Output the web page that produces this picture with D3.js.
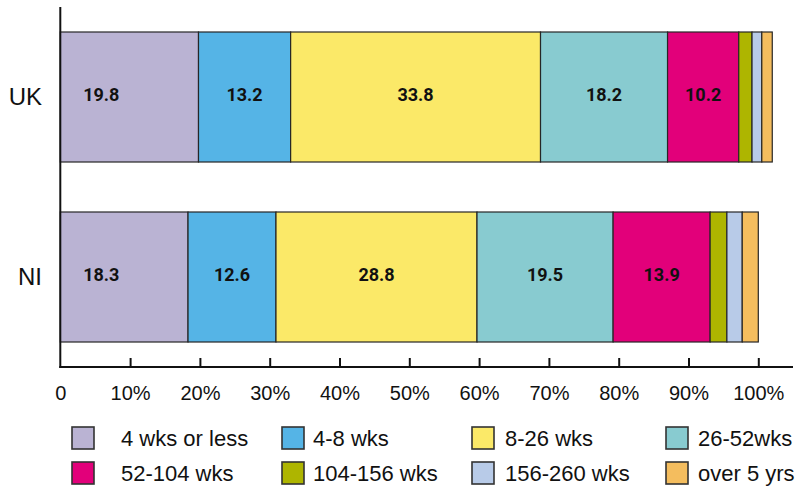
<!DOCTYPE html>
<html>
<head>
<meta charset="utf-8">
<script src="https://cdn.jsdelivr.net/npm/d3@7"></script>
<style>
  html, body { margin: 0; padding: 0; background: #fff; }
  svg { display: block; }
</style>
</head>
<body>
<svg id="chart" width="805" height="488"></svg>
<script>
// ---- data ----
const categories = ["UK", "NI"];
const seriesNames = ["4 wks or less", "4-8 wks", "8-26 wks", "26-52wks",
                     "52-104 wks", "104-156 wks", "156-260 wks", "over 5 yrs"];
// segment lengths as drawn in the reference (%)
const ukValues = [19.8, 13.2, 35.8, 18.2, 10.2, 1.9, 1.4, 1.5];
const niValues = [18.3, 12.6, 28.8, 19.5, 13.9, 2.4, 2.2, 2.3];
// printed labels (the reference prints 33.8 on the UK 8-26 wks segment)
const ukLabels = ["19.8", "13.2", "33.8", "18.2", "10.2", "", "", ""];
const niLabels = ["18.3", "12.6", "28.8", "19.5", "13.9", "", "", ""];
const tickValues = [0, 10, 20, 30, 40, 50, 60, 70, 80, 90, 100];
const tickLabels = ["0", "10%", "20%", "30%", "40%", "50%", "60%", "70%", "80%", "90%", "100%"];
const colors = ["#bab3d3", "#55b4e6", "#fbe968", "#88cbd0",
                "#e2007a", "#aeb500", "#b8cbe8", "#f4bd5e"];

// ---- layout ----
const svg = d3.select("#chart");
const x = d3.scaleLinear().domain([0, 100]).range([60.3, 758.3]);
const y = d3.scaleBand().domain(categories).range([7, 367])
            .paddingInner(0.2778).paddingOuter(0.1389);
const color = d3.scaleOrdinal().domain(seriesNames).range(colors);

const rows = [
  { cat: "UK", values: ukValues, labels: ukLabels },
  { cat: "NI", values: niValues, labels: niLabels }
];

rows.forEach(r => {
  let acc = 0;
  r.segs = r.values.map((v, i) => {
    const s = { name: seriesNames[i], x0: acc, x1: acc + v, label: r.labels[i], i };
    acc += v;
    return s;
  });
});

const g = svg.append("g");
rows.forEach(r => {
  const row = g.append("g");
  row.selectAll("rect").data(r.segs).join("rect")
    .attr("x", d => x(d.x0))
    .attr("y", y(r.cat))
    .attr("width", d => x(d.x1) - x(d.x0))
    .attr("height", y.bandwidth())
    .attr("fill", d => color(d.name))
    .attr("stroke", "#262626")
    .attr("stroke-width", 1.2);
  row.selectAll("text").data(r.segs.filter(d => d.label)).join("text")
    .attr("x", d => d.i === 0 ? x(0) + 41 : (x(d.x0) + x(d.x1)) / 2)
    .attr("y", y(r.cat) + y.bandwidth() / 2 + 3.5)
    .attr("text-anchor", "middle")
    .attr("font-family", "Roboto, 'Liberation Sans', Arial, sans-serif")
    .attr("font-weight", 700)
    .attr("font-size", 18)
    .attr("fill", "#111")
    .text(d => d.label);
});

// y axis line + category labels
svg.append("line")
  .attr("x1", x(0)).attr("x2", x(0)).attr("y1", 7).attr("y2", 368)
  .attr("stroke", "#111").attr("stroke-width", 2);
svg.append("g").selectAll("text").data(categories).join("text")
  .attr("x", 42)
  .attr("y", d => y(d) + y.bandwidth() / 2 + 8)
  .attr("text-anchor", "end")
  .attr("font-family", "'Liberation Sans Narrow', 'Liberation Sans', Arial, sans-serif")
  .attr("font-size", 24)
  .attr("fill", "#111")
  .text(d => d);

// x axis
const xAxis = d3.axisBottom(x)
  .tickValues(tickValues)
  .tickSize(0)
  .tickFormat((d, i) => tickLabels[i]);
const ax = svg.append("g").attr("transform", "translate(0,367)").call(xAxis);
ax.select(".domain").remove();
ax.append("line").attr("x1", x(0) - 1).attr("x2", 793).attr("y1", 0).attr("y2", 0)
  .attr("stroke", "#111").attr("stroke-width", 2);
ax.selectAll(".tick").filter(d => d > 0).append("line")
  .attr("y1", 0).attr("y2", -9).attr("stroke", "#111").attr("stroke-width", 2);
ax.selectAll(".tick text")
  .attr("y", 33).attr("dy", 0)
  .attr("font-family", "'Liberation Sans Narrow', 'Liberation Sans', Arial, sans-serif")
  .attr("font-size", 20)
  .attr("fill", "#111");

// legend
const legSwX = [72, 282, 472, 666];
const legTxX = [121, 313, 505, 698];
const legRowY = [427, 462];
const leg = svg.append("g").selectAll("g").data(seriesNames).join("g");
leg.append("rect")
  .attr("x", (d, i) => legSwX[i % 4])
  .attr("y", (d, i) => legRowY[Math.floor(i / 4)])
  .attr("width", 22).attr("height", 22)
  .attr("fill", d => color(d))
  .attr("stroke", "#333").attr("stroke-width", 1.6);
leg.append("text")
  .attr("x", (d, i) => legTxX[i % 4])
  .attr("y", (d, i) => legRowY[Math.floor(i / 4)] + 19)
  .attr("font-family", "'Liberation Sans', Arial, sans-serif")
  .attr("font-size", 22)
  .attr("fill", "#111")
  .text(d => d);
</script>
</body>
</html>
